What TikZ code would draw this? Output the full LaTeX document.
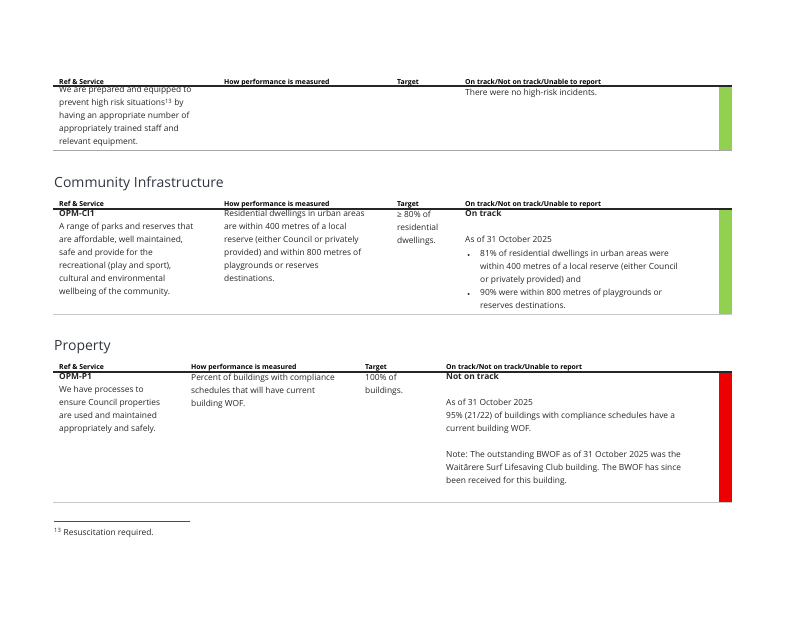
\documentclass[tikz,border=0pt]{standalone}
\usepackage{fontspec}
\setmainfont{Open Sans}
\definecolor{txt}{HTML}{262626}
\definecolor{hd}{HTML}{2F3640}
\definecolor{okgreen}{HTML}{92D050}
\definecolor{badred}{HTML}{EE0000}
\definecolor{rulegray}{HTML}{A6A6A6}
\begin{document}
\begin{tikzpicture}[x=1pt,y=-1pt,
  body/.style={anchor=north west,yshift=9.1pt,inner sep=0pt,align=left,text=txt,font=\fontsize{8.4}{13}\selectfont,execute at begin node=\strut},
  colhead/.style={anchor=base west,inner sep=0pt,text=black,font=\fontsize{6.9}{9}\selectfont\bfseries},
  sechead/.style={anchor=base west,inner sep=0pt,text=hd,font=\fontsize{14}{16}\selectfont},
  headrule/.style={draw=black!85,line width=1.3pt},
  botrule/.style={draw=rulegray,line width=0.9pt}]
\useasboundingbox (0,0) rectangle (800,619);

% ---------- Table 1 ----------
\node[colhead] (h1a) at (59,84) {Ref \& Service};
\node[colhead] (h1b) at (224,84) {How performance is measured};
\node[colhead] (h1c) at (397,84) {Target};
\node[colhead] (h1d) at (465,84) {On track/Not on track/Unable to report};
\fill[okgreen] (719,86) rectangle (732,150);
\draw[headrule] (53,86) -- (732,86);
\draw[botrule] (53,150) -- (732,150);
\node[body] (t1a) at (59,95.5) {We are prepared and equipped to\\prevent high risk situations\textsuperscript{13} by\\having an appropriate number of\\appropriately trained staff and\\relevant equipment.};
\node[body] (t1d) at (465,95.5) {There were no high-risk incidents.};

% ---------- Community Infrastructure ----------
\node[sechead] (s2) at (54,187) {Community Infrastructure};
\node[colhead] (h2a) at (59,206) {Ref \& Service};
\node[colhead] (h2b) at (224,206) {How performance is measured};
\node[colhead] (h2c) at (397,206) {Target};
\node[colhead] (h2d) at (465,206) {On track/Not on track/Unable to report};
\fill[okgreen] (719,209) rectangle (732,314);
\draw[headrule] (53,209) -- (732,209);
\draw[botrule,draw=black!22] (53,314) -- (732,314);
\node[body] (t2a) at (59,219.5) {\textbf{OPM-CI1}\\A range of parks and reserves that\\are affordable, well maintained,\\safe and provide for the\\recreational (play and sport),\\cultural and environmental\\wellbeing of the community.};
\node[body] (t2b) at (224,219.5) {Residential dwellings in urban areas\\are within 400 metres of a local\\reserve (either Council or privately\\provided) and within 800 metres of\\playgrounds or reserves\\destinations.};
\node[body] (t2c) at (397,219.5) {≥ 80\% of\\residential\\dwellings.};
\node[body] (t2d) at (465,219.5) {\textbf{On track}\\[13pt]As of 31 October 2025};
\node[body] (b1) at (467,258.5) {•};
\node[body] (t2e) at (480,258.5) {81\% of residential dwellings in urban areas were\\within 400 metres of a local reserve (either Council\\or privately provided) and};
\node[body] (b2) at (467,297.5) {•};
\node[body] (t2f) at (480,297.5) {90\% were within 800 metres of playgrounds or\\reserves destinations.};

% ---------- Property ----------
\node[sechead] (s3) at (54,350) {Property};
\node[colhead] (h3a) at (59,369) {Ref \& Service};
\node[colhead] (h3b) at (191,369) {How performance is measured};
\node[colhead] (h3c) at (365,369) {Target};
\node[colhead] (h3d) at (446,369) {On track/Not on track/Unable to report};
\fill[badred] (719,372) rectangle (732,502);
\draw[headrule] (53,372) -- (732,372);
\draw[botrule,draw=black!22] (53,502) -- (732,502);
\node[body] (t3a) at (59,382.5) {\textbf{OPM-P1}\\We have processes to\\ensure Council properties\\are used and maintained\\appropriately and safely.};
\node[body] (t3b) at (191,382.5) {Percent of buildings with compliance\\schedules that will have current\\building WOF.};
\node[body] (t3c) at (365,382.5) {100\% of\\buildings.};
\node[body] (t3d) at (446,382.5) {\textbf{Not on track}\\[13pt]As of 31 October 2025\\95\% (21/22) of buildings with compliance schedules have a\\current building WOF.\\[13pt]Note: The outstanding BWOF as of 31 October 2025 was the\\Waitārere Surf Lifesaving Club building. The BWOF has since\\been received for this building.};

% ---------- Footnote ----------
\coordinate (fnl) at (54,521);
\coordinate (fnr) at (190,521);
\draw[draw=black!70,line width=0.6pt] (fnl) -- (fnr);
\node[body] (fn) at (54,535) {\textsuperscript{13} Resuscitation required.};
\end{tikzpicture}
\end{document}
